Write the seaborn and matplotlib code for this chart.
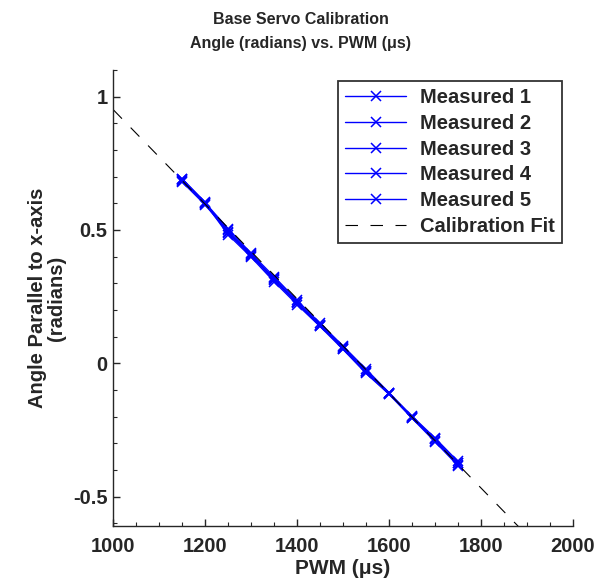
import numpy as np
import pandas as pd
import matplotlib
matplotlib.use("Agg")
import matplotlib.pyplot as plt
import seaborn as sns
from matplotlib.ticker import MultipleLocator, FormatStrFormatter

# PWM commands (us) sent to the base servo
PWM = [1150, 1200, 1250, 1300, 1350, 1400, 1450, 1500, 1550, 1600, 1650, 1700, 1750]

# measured angle (radians) for each trial
MEASURED_1 = [0.690, 0.602, 0.505, 0.412, 0.325, 0.236, 0.150, 0.065, -0.022, -0.110, -0.198, -0.280, -0.368]
MEASURED_2 = [0.685, 0.598, 0.498, 0.408, 0.318, 0.230, 0.145, 0.060, -0.028, -0.112, -0.202, -0.286, -0.374]
MEASURED_3 = [0.680, 0.594, 0.492, 0.403, 0.312, 0.225, 0.142, 0.055, -0.034, -0.114, -0.204, -0.290, -0.380]
MEASURED_4 = [0.688, 0.600, 0.482, 0.398, 0.306, 0.220, 0.138, 0.052, -0.038, -0.116, -0.206, -0.294, -0.384]
MEASURED_5 = [0.692, 0.604, 0.488, 0.405, 0.315, 0.228, 0.140, 0.058, -0.030, -0.113, -0.200, -0.284, -0.376]
SERIES_NAMES = ["Measured 1", "Measured 2", "Measured 3", "Measured 4", "Measured 5"]

# linear calibration fit: angle = slope * pwm + intercept
FIT_SLOPE = -0.001773
FIT_INTERCEPT = 2.724
FIT_PWM = [1000, 2000]

sns.set_style("ticks")
plt.rcParams["font.family"] = ["Liberation Sans", "DejaVu Sans"]
plt.rcParams["font.weight"] = "bold"
plt.rcParams["axes.unicode_minus"] = False
plt.rcParams["lines.scale_dashes"] = False


def main():
    measured = [MEASURED_1, MEASURED_2, MEASURED_3, MEASURED_4, MEASURED_5]
    df = pd.concat(
        [pd.DataFrame({"pwm": PWM, "angle": vals, "series": name})
         for name, vals in zip(SERIES_NAMES, measured)],
        ignore_index=True)

    fig = plt.figure(figsize=(5.96, 5.83), dpi=100)
    ax = fig.add_axes([0.19, 0.098, 0.771, 0.782])

    # seaborn paints marker edges white by default, 'x' needs a real edge colour
    sns.lineplot(data=df, x="pwm", y="angle", hue="series", style="series",
                 palette=["#0000ff"] * 5, markers=["x"] * 5, dashes=False,
                 markersize=7, markeredgewidth=1.1, markeredgecolor="#0000ff",
                 linewidth=1.0, legend=False, ax=ax)
    n_meas = len(ax.lines)

    fit_df = pd.DataFrame({"pwm": FIT_PWM})
    fit_df["angle"] = np.polyval([FIT_SLOPE, FIT_INTERCEPT], fit_df["pwm"])
    sns.lineplot(data=fit_df, x="pwm", y="angle", color="black",
                 linewidth=0.8, legend=False, ax=ax)
    fit_line = ax.lines[n_meas]
    fit_line.set_dashes((9, 9))

    ax.set_xlim(1000, 2000)
    ax.set_ylim(-0.61, 1.1)
    ax.xaxis.set_major_locator(MultipleLocator(200))
    ax.xaxis.set_minor_locator(MultipleLocator(50))
    ax.yaxis.set_major_locator(MultipleLocator(0.5))
    ax.yaxis.set_minor_locator(MultipleLocator(0.1))
    ax.yaxis.set_major_formatter(FormatStrFormatter("%g"))
    ax.tick_params(which="major", direction="in", length=5, width=1, labelsize=14.5)
    ax.tick_params(which="minor", direction="in", length=3, width=0.8)
    ax.tick_params(axis="x", which="major", pad=8)
    ax.tick_params(axis="y", which="major", pad=4)
    for lab in ax.get_xticklabels() + ax.get_yticklabels():
        lab.set_fontweight("bold")

    sns.despine(ax=ax)
    ax.spines["left"].set_linewidth(1.0)
    ax.spines["bottom"].set_linewidth(1.0)

    ax.set_xlabel("PWM (\u03bcs)", fontsize=15, fontweight="bold", labelpad=2)
    ax.set_ylabel("Angle Parallel to x-axis\n(radians)", fontsize=14.5,
                  fontweight="bold", labelpad=5, linespacing=1.0)
    fig.suptitle("Base Servo Calibration\nAngle (radians) vs. PWM (\u03bcs)",
                 x=0.505, y=0.98, va="top", fontsize=11.5, fontweight="bold",
                 linespacing=1.75)

    handles = ax.lines[:n_meas] + [fit_line]
    leg = ax.legend(handles=handles, labels=SERIES_NAMES + ["Calibration Fit"],
                    loc="upper right", bbox_to_anchor=(0.976, 0.975),
                    fontsize=14.5, frameon=True, fancybox=False,
                    handlelength=3.0, handletextpad=0.7, labelspacing=0.33,
                    borderpad=0.35, borderaxespad=0, edgecolor="black")
    leg.get_frame().set_linewidth(1.3)
    for txt in leg.get_texts():
        txt.set_fontweight("bold")

    fig.savefig("out.png", dpi=100)
    plt.close(fig)


if __name__ == "__main__":
    main()
